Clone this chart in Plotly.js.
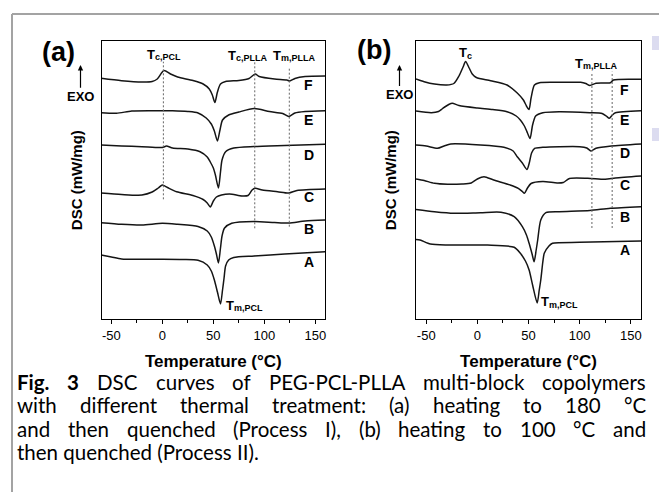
<!DOCTYPE html>
<html>
<head>
<meta charset="utf-8">
<script src="https://cdn.plot.ly/plotly-3.0.1.min.js"></script>
<style>html,body{margin:0;padding:0;background:#fff}#chart{width:659px;height:492px}</style>
</head>
<body>
<div id="chart"></div>
<script>
// ---------------- DATA ----------------
// Panel (a): Process I  — temperature (°C) and DSC signal (arbitrary, stacked offsets)
const aF_T   = [-60,-40,-20,-10,-5,1.5,8,15,30,40,46,49,51.5,54,57,62,75,85,91,95,110,122,125,130,140,160];
const aF_dsc = [240.7,238.3,237,237.5,240,248.5,245,242,238.5,235,230,224,216.5,227,235,237.5,238.5,240.5,245,242.5,240,239,238,240.5,242.5,243];
const aE_T   = [-60,-45,-30,-10,10,25,35,43,48,51,54,56.5,59,65,75,90,105,118,124,130,140,160];
const aE_dsc = [206.3,205.7,208,208.3,208.3,207.5,206,201,195,188,178,189,199,204,207,210.5,207.5,205.5,202.5,206,207.5,208.3];
const aD_T   = [-60,-40,-20,0,4,10,25,37,44,47,50,52,55,57,58.5,62,70,90,120,160];
const aD_dsc = [174,173,172.3,171.5,173,171,170,167.3,162,157,151,144,131,147,159,167.3,171,172.5,173.5,174.7];
const aC_T   = [-60,-40,-20,-10,-4,0,5,14,30,40,44,47,50,53,58,66,78,84,88,91,98,113,124,132,160];
const aC_dsc = [126,124.5,124,127,131,134,131.5,127.3,123.5,119.5,116,112,118,122,124,125,123,123.5,129,130.7,129,127.3,126,128.5,130];
const aB_T   = [-60,-40,-20,0,15,35,44,48,51,53,55,57,58.5,61,68,90,110,124,140,160];
const aB_dsc = [96.3,94.7,94,95.7,94.7,92.5,88,82,73,65,56,71,83,91,95.7,97.5,96.5,96,98,99];
const aA_T   = [-60,-50,-40,-20,0,20,35,44,48,51,54,57,59,60.5,62,65,70,90,120,160];
const aA_dsc = [64,62,60,59.7,59.7,59.5,58.7,54,48,39,27,15,29,41,53,59,61.5,63,65,67.3];

// Panel (b): Process II
const bF_T   = [-60,-52,-42,-30,-23,-18,-14,-11.5,-8,-5,-1,13,29,39,45,48,50.5,52.5,55.8,60.7,80,101,106,110,116,130,133,160];
const bF_dsc = [240,237.3,235,234,235.5,243,252,257.5,251,245,241.5,238.3,234,226,219,213,209.5,221,234,236.3,236.7,236.7,235.5,233.5,235.7,236.3,239,239.7];
const bE_T   = [-60,-45,-38,-34,-28,-24.5,-18,0,15,29,38,42,46,49,51.5,54,57,64,80,110,122,126,129,132,135,160];
const bE_dsc = [208,206.3,207.5,210.5,214.5,215.7,213.5,211,209.5,207.3,203,199,193,186,180.5,194,203,206.3,207.3,206.3,205.5,203,200.7,204,206.3,208.3];
const bD_T   = [-60,-50,-39,-32.5,-26,3,26,35,39,44,48.5,51,53,56,64,80,100,107,111,116,131,160];
const bD_dsc = [174,173,170.7,173,175,174,171.7,168,162.3,156,149.5,157,166,170.7,171.7,172.3,172.3,171,168,170.7,173,175];
const bC_T   = [-60,-52,-42,-29,-15,-6,0,6.5,16,32,40,44,46,49,52.5,64,78,84,90,108,125,135,160];
const bC_dsc = [140,138.5,135.7,134.7,135,136,140,142.3,139,134,130.7,127.5,125.7,131,135.5,137.5,136,136.5,140.5,140.7,139.7,141,143];
const bB_T   = [-60,-42,-23,3,23,36,44,48,50.6,53.5,55.5,57.5,59,62,67,80,110,130,160];
const bB_dsc = [109.5,107.3,105.7,106.3,106.7,102.3,92.3,84,75.7,65,57.3,69,79,99,106.3,107.3,108.5,110.7,112.3];
const bA_T   = [-60,-56,-46,-29,10,36,42,47,50.6,54,58.5,60.5,62,64,65.4,70,73.5,100,160];
const bA_dsc = [79.5,79,75,74,74,71.7,65.7,58,49,34,16,29,39,57,65.7,73,75.7,76.7,78];

// Transition temperatures marked with dotted guides
const aGuideT = [1, 90.6, 124.5];          // Tc,PCL  Tc,PLLA  Tm,PLLA
const bGuideT = [112, 131.8];              // Tm,PLLA guides

const sampleLabels = ['A','B','C','D','E','F'];
const xTickVals = [-50, 0, 50, 100, 150];
const xTickText = ['-50', '0', '50', '100', '150'];

const captionLines = [
  "<b>Fig.</b> <b>3</b> DSC curves of PEG-PCL-PLLA multi-block copolymers",
  "with different thermal treatment: (a) heating to 180 °C",
  "and then quenched (Process I), (b) heating to 100 °C and",
  "then quenched (Process II)."
];

// ---------------- LAYOUT HELPERS ----------------
const W = 659, H = 492;
const px = v => v / W;
const py = v => 1 - v / H;
const FONT = 'Liberation Sans, Arial, sans-serif';
const curveLine = {color: '#151515', width: 1.5, shape: 'spline', smoothing: 0.7};
const ctx = document.createElement('canvas').getContext('2d');

const aCurves = [[aA_T,aA_dsc],[aB_T,aB_dsc],[aC_T,aC_dsc],[aD_T,aD_dsc],[aE_T,aE_dsc],[aF_T,aF_dsc]];
const bCurves = [[bA_T,bA_dsc],[bB_T,bB_dsc],[bC_T,bC_dsc],[bD_T,bD_dsc],[bE_T,bE_dsc],[bF_T,bF_dsc]];

const traces = [];
aCurves.forEach((c, i) => traces.push({x: c[0], y: c[1], xaxis: 'x', yaxis: 'y', mode: 'lines',
  name: '(a) ' + sampleLabels[i], line: curveLine, hoverinfo: 'skip', showlegend: false}));
bCurves.forEach((c, i) => traces.push({x: c[0], y: c[1], xaxis: 'x2', yaxis: 'y2', mode: 'lines',
  name: '(b) ' + sampleLabels[i], line: curveLine, hoverinfo: 'skip', showlegend: false}));

// dotted guide extents (layout)
const aGuideSpan = [[119.7, 257.3], [90.7, 257.3], [92.3, 252.3]];
const bGuideSpan = [[91, 245.7], [91, 247.3]];
const guideLine = {color: '#666', width: 1, dash: '2px,2px'};
aGuideT.forEach((t, i) => traces.push({x: [t, t], y: aGuideSpan[i], xaxis: 'x', yaxis: 'y', mode: 'lines',
  line: guideLine, hoverinfo: 'skip', showlegend: false}));
bGuideT.forEach((t, i) => traces.push({x: [t, t], y: bGuideSpan[i], xaxis: 'x2', yaxis: 'y2', mode: 'lines',
  line: guideLine, hoverinfo: 'skip', showlegend: false}));

function xAxis(domain, range, anchor) {
  return {
    domain: domain, range: range, anchor: anchor,
    showline: true, mirror: true, linecolor: '#000', linewidth: 1.2,
    ticks: 'outside', ticklen: 4, tickwidth: 1, tickcolor: '#000',
    tickmode: 'array', tickvals: xTickVals, ticktext: xTickText,
    tickfont: {family: FONT, size: 13, color: '#000'},
    minor: {tickmode: 'linear', tick0: -50, dtick: 25, ticks: 'outside', ticklen: 3, tickwidth: 1, tickcolor: '#000', showgrid: false},
    showgrid: false, zeroline: false, fixedrange: true,
    title: {text: '<b>Temperature (°C)</b>', font: {family: FONT, size: 17, color: '#000'}, standoff: 13}
  };
}
function yAxis(domain, anchor) {
  return {
    domain: domain, range: [0, 277.7], anchor: anchor,
    showline: true, mirror: true, linecolor: '#000', linewidth: 1.2,
    ticks: '', showticklabels: false, showgrid: false, zeroline: false, fixedrange: true,
    title: {text: '<b>DSC (mW/mg)</b>', font: {family: FONT, size: 15, color: '#000'}, standoff: 14}
  };
}

const yDom = [py(319), py(41.3)];
const annotations = [];

// Panel labels, EXO arrows
annotations.push({xref: 'paper', yref: 'paper', x: px(58.5), y: py(51.5), text: '<b>(a)</b>', showarrow: false,
  font: {family: FONT, size: 27, color: '#000'}, xanchor: 'center', yanchor: 'middle'});
annotations.push({xref: 'paper', yref: 'paper', x: px(373.5), y: py(50), text: '<b>(b)</b>', showarrow: false,
  font: {family: FONT, size: 27, color: '#000'}, xanchor: 'center', yanchor: 'middle'});
[[80.5, 96.7], [399.5, 95]].forEach(p => annotations.push({
  xref: 'paper', yref: 'paper', x: px(p[0]), y: py(65), ax: 0, ay: p[1] - 65, text: '<b>EXO</b>',
  showarrow: true, arrowhead: 2, arrowsize: 0.9, arrowwidth: 1.2, arrowcolor: '#000', standoff: 0,
  font: {family: FONT, size: 13, color: '#000'}}));

// Transition labels: "T" plus a smaller, lowered subscript drawn as its own text
const labMain = 13, labSub = 9;
function textW(t, size) { ctx.font = 'bold ' + size + 'px "Liberation Sans", Arial'; return ctx.measureText(t).width; }
function lab(xr, yr, x, y, sub, anchor) {
  const wT = textW('T', labMain), wS = textW(sub, labSub);
  const start = anchor === 'left' ? 0 : -(wT + wS) / 2;
  annotations.push({xref: xr, yref: yr, x: x, y: y, text: '<b>T</b>', showarrow: false, xanchor: 'left', yanchor: 'middle',
    xshift: start - 1, borderpad: 0, font: {family: FONT, size: labMain, color: '#000'}});
  annotations.push({xref: xr, yref: yr, x: x, y: y, text: '<b>' + sub + '</b>', showarrow: false, xanchor: 'left', yanchor: 'middle',
    xshift: start + wT - 1, yshift: -3, borderpad: 0, font: {family: FONT, size: labSub, color: '#000'}});
}
lab('x', 'y', 1.5, 265, 'c,PCL');
lab('x', 'y', 83.8, 264, 'c,PLLA');
lab('x', 'y', 128.8, 264, 'm,PLLA');
lab('x', 'y', 62.5, 14, 'm,PCL', 'left');
lab('x2', 'y2', -11.4, 266.5, 'c');
lab('x2', 'y2', 116.4, 256, 'm,PLLA');
lab('x2', 'y2', 62.5, 17.3, 'm,PCL', 'left');

// Sample letters
const aLetterY = [57.3, 89.7, 122.3, 164, 199, 234];
const bLetterY = [69, 102.3, 134, 165.7, 199, 229];
sampleLabels.forEach((s, i) => {
  annotations.push({xref: 'x', yref: 'y', x: 143.5, y: aLetterY[i], text: '<b>' + s + '</b>', showarrow: false,
    font: {family: FONT, size: 14, color: '#000'}});
  annotations.push({xref: 'x2', yref: 'y2', x: 144, y: bLetterY[i], text: '<b>' + s + '</b>', showarrow: false,
    font: {family: FONT, size: 14, color: '#000'}});
});

// Caption (justified lines, last line left-aligned)
const capFamily = 'Lato';
const capSize = 20.5;
function measureWord(word) {
  const bold = /^<b>/.test(word);
  const plain = word.replace(/<\/?b>/g, '');
  ctx.font = (bold ? 'bold ' : '') + capSize + 'px ' + capFamily;
  return ctx.measureText(plain).width;
}
const capLeft = 17, capRight = 646;
const capY = [382, 405, 428.5, 452];
captionLines.forEach((line, li) => {
  const last = li === captionLines.length - 1;
  if (last) {
    annotations.push({xref: 'paper', yref: 'paper', x: px(capLeft - 1), y: py(capY[li]), text: line, showarrow: false,
      xanchor: 'left', yanchor: 'middle', borderpad: 0, font: {family: capFamily, size: capSize, color: '#000'}});
    return;
  }
  const words = line.split(' ');
  const widths = words.map(measureWord);
  const total = widths.reduce((a, b) => a + b, 0);
  const gap = (capRight - capLeft - total) / (words.length - 1);
  let x = capLeft;
  words.forEach((w, i) => {
    annotations.push({xref: 'paper', yref: 'paper', x: px(x - 1), y: py(capY[li]), text: w, showarrow: false,
      xanchor: 'left', yanchor: 'middle', borderpad: 0, font: {family: capFamily, size: capSize, color: '#000'}});
    x += widths[i] + gap;
  });
});

const shapes = [
  {type: 'line', xref: 'paper', yref: 'paper', x0: px(12), x1: 1, y0: py(14), y1: py(14), line: {color: '#a3a3a3', width: 2}},
  {type: 'line', xref: 'paper', yref: 'paper', x0: px(12), x1: px(12), y0: py(14), y1: 0, line: {color: '#a3a3a3', width: 2}},
  {type: 'rect', xref: 'paper', yref: 'paper', x0: px(652), x1: 1, y0: py(50), y1: py(36), fillcolor: '#dcdcf0', line: {width: 0}},
  {type: 'rect', xref: 'paper', yref: 'paper', x0: px(652), x1: 1, y0: py(141), y1: py(128), fillcolor: '#dcdcf0', line: {width: 0}}
];

const layout = {
  width: W, height: H,
  margin: {l: 0, r: 0, t: 0, b: 0},
  paper_bgcolor: '#fff', plot_bgcolor: '#fff',
  font: {family: FONT, color: '#000'},
  showlegend: false,
  xaxis: xAxis([px(101.7), px(325)], [-59.5, 159.5], 'y'),
  yaxis: yAxis(yDom, 'x'),
  xaxis2: xAxis([px(416), px(641)], [-60, 160], 'y2'),
  yaxis2: yAxis(yDom, 'x2'),
  annotations: annotations,
  shapes: shapes
};

Plotly.newPlot('chart', traces, layout, {displayModeBar: false, staticPlot: true});
</script>
</body>
</html>
